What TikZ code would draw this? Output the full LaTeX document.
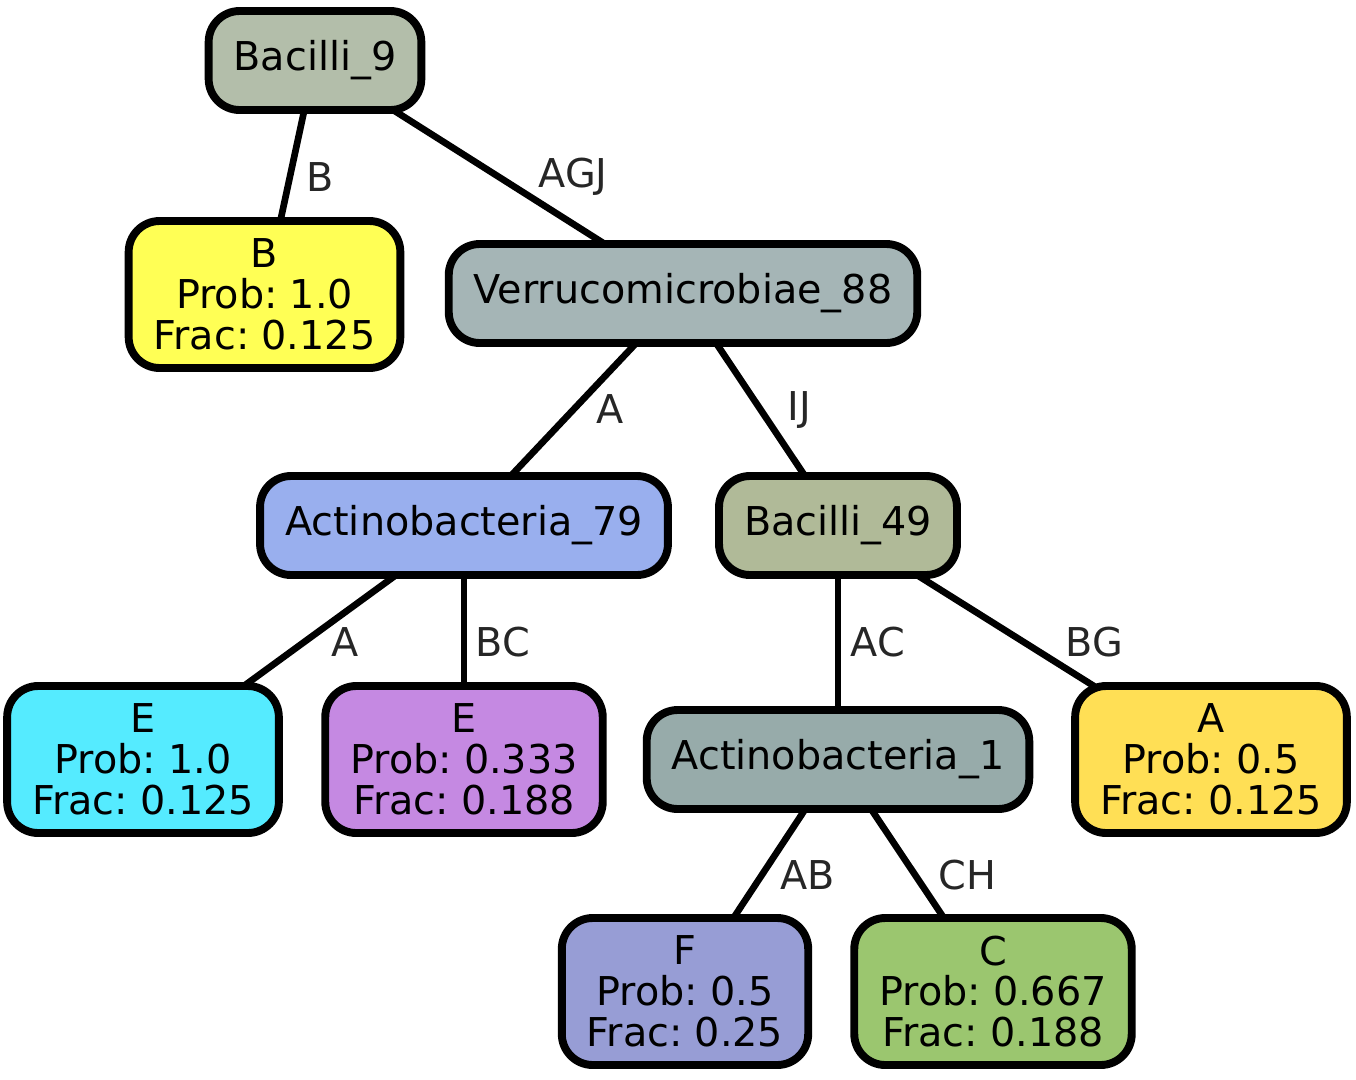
\documentclass[tikz,border=0pt]{standalone}
\usepackage{fontspec}
\setmainfont{DejaVu Sans}
\usetikzlibrary{positioning,backgrounds}

\definecolor{cbnine}{HTML}{B3BEAA}
\definecolor{cvnine}{HTML}{A5B5B6}
\definecolor{canine}{HTML}{99AFEE}
\definecolor{cbfour}{HTML}{B0BA98}
\definecolor{caone}{HTML}{97ABAA}
\definecolor{cleafb}{HTML}{FFFF55}
\definecolor{cleafe}{HTML}{55EBFF}
\definecolor{cleafee}{HTML}{C589E2}
\definecolor{cleafa}{HTML}{FFDF55}
\definecolor{cleaff}{HTML}{979DD5}
\definecolor{cleafc}{HTML}{9BC66F}

\newcommand{\treefont}{\fontsize{22.6}{23.2}\selectfont\spaceskip=0.2em\relax}

\begin{document}
\begin{tikzpicture}[on grid,
	taxnode/.style={draw=black, line width=4.5pt, rounded corners=0.62cm, inner xsep=0.5cm, minimum height=1.98cm, font=\treefont},
	leafnode/.style={taxnode, align=center, minimum height=2.94cm},
	edgelabel/.style={midway, text=black!85, font=\treefont},
	edgeline/.style={line width=3.8pt}]
	\useasboundingbox (0,0) rectangle (27.12,-21.58);

	\node[taxnode, fill=cbnine] (b9) at (6.30,-1.21) {Bacilli\_9};
	\node[leafnode, fill=cleafb] (lb) [below left=4.68cm and 1.01cm of b9] {B\\Prob: 1.0\\Frac: 0.125};
	\node[taxnode, fill=cvnine] (v88) [below right=4.66cm and 7.36cm of b9] {Verrucomicrobiae\_88};

	\node[taxnode, fill=canine] (a79) [below left=4.64cm and 4.38cm of v88] {Actinobacteria\_79};
	\node[taxnode, fill=cbfour] (b49) [below right=4.64cm and 3.10cm of v88] {Bacilli\_49};

	\node[leafnode, fill=cleafe] (le1) [below left=4.68cm and 6.42cm of a79] {E\\Prob: 1.0\\Frac: 0.125};
	\node[leafnode, fill=cleafee] (le2) [below=4.68cm of a79] {E\\Prob: 0.333\\Frac: 0.188};
	\node[taxnode, fill=caone] (a1) [below=4.68cm of b49] {Actinobacteria\_1};
	\node[leafnode, fill=cleafa] (la) [below right=4.68cm and 7.46cm of b49] {A\\Prob: 0.5\\Frac: 0.125};

	\node[leafnode, fill=cleaff] (lf) [below left=4.64cm and 3.06cm of a1] {F\\Prob: 0.5\\Frac: 0.25};
	\node[leafnode, fill=cleafc] (lc) [below right=4.64cm and 3.10cm of a1] {C\\Prob: 0.667\\Frac: 0.188};

	\begin{pgfonlayer}{background}
		\draw[edgeline] (b9.center) -- node[edgelabel, xshift=0.60cm] {B} (lb.center);
		\draw[edgeline] (b9.center) -- node[edgelabel, xshift=1.48cm] {AGJ} (v88.center);
		\draw[edgeline] (v88.center) -- node[edgelabel, xshift=0.74cm] {A} (a79.center);
		\draw[edgeline] (v88.center) -- node[edgelabel, xshift=0.78cm] {IJ} (b49.center);
		\draw[edgeline] (a79.center) -- node[edgelabel, xshift=0.84cm] {A} (le1.center);
		\draw[edgeline] (a79.center) -- node[edgelabel, xshift=0.78cm] {BC} (le2.center);
		\draw[edgeline] (b49.center) -- node[edgelabel, xshift=0.80cm] {AC} (a1.center);
		\draw[edgeline] (b49.center) -- node[edgelabel, xshift=1.40cm] {BG} (la.center);
		\draw[edgeline] (a1.center) -- node[edgelabel, xshift=0.92cm] {AB} (lf.center);
		\draw[edgeline] (a1.center) -- node[edgelabel, xshift=1.04cm] {CH} (lc.center);
	\end{pgfonlayer}
\end{tikzpicture}
\end{document}
